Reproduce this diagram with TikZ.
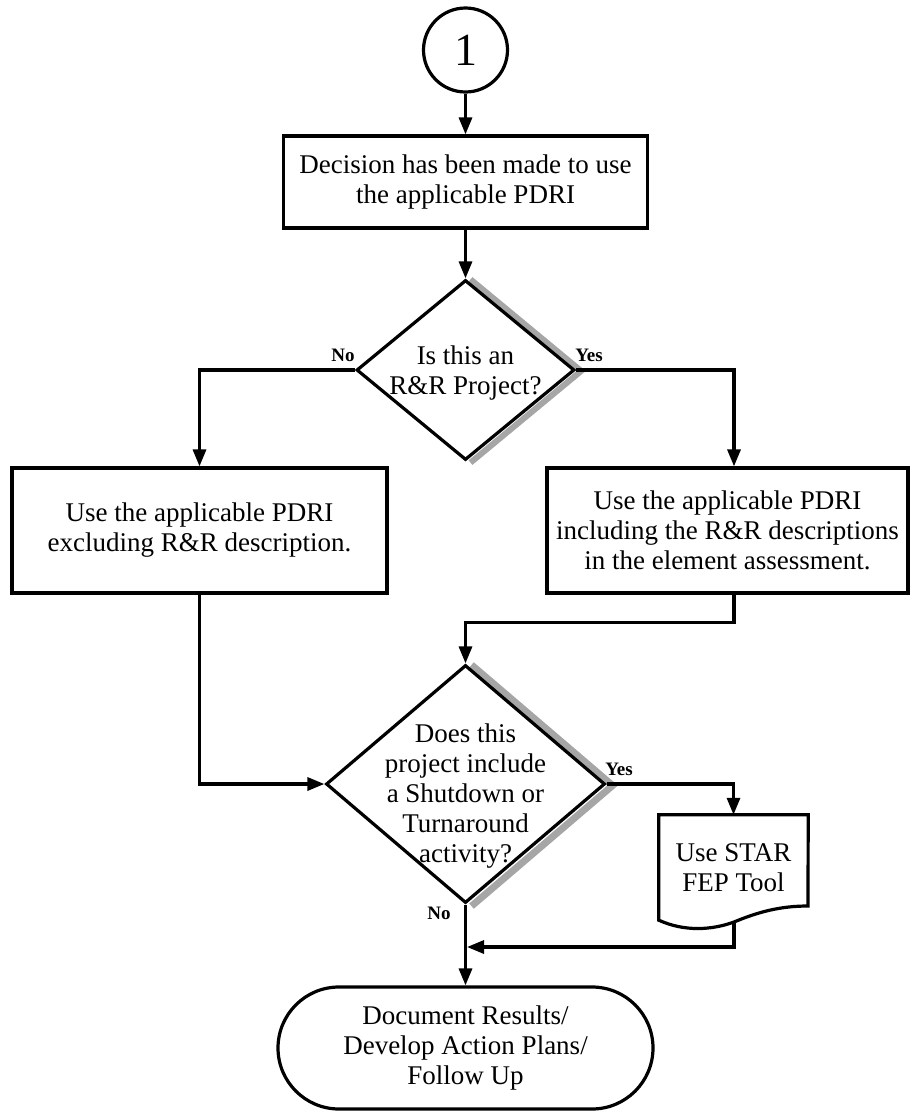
\documentclass[tikz,border=0pt]{standalone}
\usepackage{fontspec}
\setmainfont{Liberation Serif}
\usetikzlibrary{arrows.meta,shapes.geometric}
\pgfdeclarelayer{bg}
\pgfsetlayers{bg,main}
\begin{document}
\begin{tikzpicture}[x=1pt,y=-1pt,
  every node/.style={font=\fontsize{27}{30}\selectfont, align=center, inner sep=0pt},
  lw/.style={line width=3.2pt},
  box/.style={draw, lw, fill=white, rectangle},
  dia/.style={draw, lw, fill=white, diamond, line join=miter},
  lbl/.style={font=\fontsize{19}{22}\selectfont\bfseries},
  shadowline/.style={draw=black!35, line width=6pt, line join=miter},
  arr/.style={lw, -{Triangle[length=17pt,width=13pt]}, line join=miter},
]
\useasboundingbox (0,0) rectangle (911,1111);

% nodes
\node[draw, lw, circle, minimum size=84pt, font=\fontsize{46}{46}\selectfont] (start) at (465.5,50) {1};
\node[box, minimum width=364pt, minimum height=92pt] (decide) at (465.5,182) {Decision has been made to use\\the applicable PDRI};
\node[dia, minimum width=218pt, minimum height=180pt] (d1) at (465.5,370) {};
\node (d1t) at (465.5,373) {Is this an\\R\&R Project?};
\node[box, minimum width=375pt, minimum height=125pt] (left) at (199.5,530.5) {Use the applicable PDRI\\excluding R\&R description.};
\node[box, minimum width=361pt, minimum height=125pt] (right) at (727.5,530.5) {Use the applicable PDRI\\including the R\&R descriptions\\in the element assessment.};
\node[dia, minimum width=279pt, minimum height=238pt] (d2) at (465.5,784) {};
\node (d2t) at (465.5,796) {Does this\\project include\\a Shutdown or\\Turnaround\\activity?};
\node[minimum width=149pt, minimum height=105pt] (doc) at (733.5,867.5) {Use STAR\\FEP Tool};
\draw[lw, line join=miter] (doc.north west) -- (doc.north east) -- (808,906)
  .. controls (780,906) and (758,912) .. (734,922)
  .. controls (712,930) and (685,932) .. (doc.south west) -- cycle;
\coordinate (docb) at (734,922);
\coordinate (join) at (467,947);
\node[draw, lw, rounded corners=61pt, minimum width=375pt, minimum height=122pt] (term) at (465.5,1048) {Document Results/\\Develop Action Plans/\\Follow Up};

% shadows
\begin{pgfonlayer}{bg}
\draw[shadowline] ([shift={(5,1)}]d1.north) -- ([shift={(5,1)}]d1.east) -- ([shift={(5,1)}]d1.south);
\draw[shadowline, line width=7pt] ([shift={(6,1.5)}]d2.north) -- ([shift={(6,1.5)}]d2.east) -- ([shift={(6,1.5)}]d2.south);
\end{pgfonlayer}

% labels
\node[lbl] (no1) at (343,355) {No};
\node[lbl] (yes1) at (589,355) {Yes};
\node[lbl] (yes2) at (619,769) {Yes};
\node[lbl] (no2) at (439,913) {No};

% connectors
\draw[arr] (start) -- (decide);
\draw[arr] (decide) -- (d1);
\draw[arr] (d1.west) -| (left.north);
\draw[arr] (d1.east) -| ([xshift=6.5pt]right.north);
\draw[arr] (left.south) |- (d2.west);
\draw[arr] ([xshift=6.5pt]right.south) -- ++(0,28) -| (d2.north);
\draw[arr] (d2.east) -| (doc.north);
\draw[arr] (docb) |- (join);
\draw[arr] (d2.south) -- (term.north);
\end{tikzpicture}
\end{document}
